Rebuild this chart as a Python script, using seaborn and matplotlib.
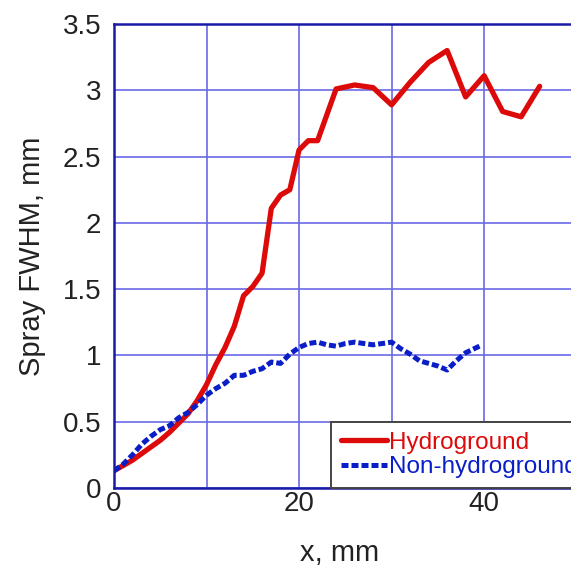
import matplotlib

matplotlib.use("Agg")
import matplotlib.pyplot as plt
import numpy as np
import pandas as pd
import seaborn as sns
from matplotlib.ticker import MultipleLocator


HYDRO_X = [0, 1, 2, 3, 4, 5, 6, 7, 8, 9, 10, 11, 12, 13, 14, 15, 16, 17, 18,
           19, 20, 21, 22, 24, 26, 28, 30, 32, 34, 36, 38, 40, 42, 44, 46]
HYDRO_Y = [0.13, 0.17, 0.21, 0.26, 0.31, 0.36, 0.42, 0.49, 0.56, 0.66, 0.78,
           0.93, 1.06, 1.22, 1.45, 1.52, 1.62, 2.11, 2.21, 2.25, 2.55, 2.62,
           2.62, 3.01, 3.04, 3.02, 2.89, 3.06, 3.21, 3.30, 2.95, 3.11, 2.84,
           2.80, 3.03]

NONHYDRO_X = [0, 1, 2, 3, 4, 5, 6, 7, 8, 9, 10, 11, 12, 13, 14, 15, 16, 17,
              18, 19, 20, 21, 22, 23, 24, 25, 26, 27, 28, 29, 30, 31, 32, 33,
              34, 35, 36, 37, 38, 39.5]
NONHYDRO_Y = [0.13, 0.18, 0.25, 0.33, 0.39, 0.44, 0.47, 0.53, 0.57, 0.63,
              0.70, 0.75, 0.79, 0.85, 0.85, 0.88, 0.90, 0.95, 0.94, 1.01,
              1.06, 1.09, 1.10, 1.08, 1.07, 1.09, 1.10, 1.09, 1.08, 1.09,
              1.10, 1.05, 1.01, 0.96, 0.94, 0.92, 0.89, 0.96, 1.02, 1.07]

Y_TICKS = [0, 0.5, 1, 1.5, 2, 2.5, 3, 3.5]
X_TICKS = [0, 20, 40]

RED = "#dd0a0a"
BLUE = "#0a1ec8"
SPINE = "#1a1aa8"
GRID = "#6a6ae6"

sns.set_style("whitegrid")
plt.rcParams["font.family"] = ["Liberation Sans", "DejaVu Sans"]

hydro = pd.DataFrame({"x": HYDRO_X, "fwhm": HYDRO_Y})
nonhydro = pd.DataFrame({"x": NONHYDRO_X, "fwhm": NONHYDRO_Y})

fig = plt.figure(figsize=(5.71, 5.70), dpi=100)
# axes run a little past the right edge of the picture, as in the original crop
ax = fig.add_axes([114 / 571, 82 / 570, 471 / 571, 464 / 570])

sns.lineplot(
    data=hydro, x="x", y="fwhm", ax=ax,
    color=RED, linewidth=3.8, label="Hydroground",
)
sns.lineplot(
    data=nonhydro, x="x", y="fwhm", ax=ax,
    color=BLUE, linewidth=3.6, linestyle=(0, (1.4, 0.6)),
    label="Non-hydroground",
)

ax.set_xlim(0, 50.9)
ax.set_ylim(0, 3.5)
ax.set_xticks(X_TICKS)
ax.xaxis.set_minor_locator(MultipleLocator(10))
ax.set_yticks(Y_TICKS)
ax.set_yticklabels([f"{v:g}" for v in Y_TICKS])

ax.grid(True, which="both", color=GRID, linewidth=1.2)
ax.set_axisbelow(True)
for spine in ax.spines.values():
    spine.set_color(SPINE)
    spine.set_linewidth(1.8)

ax.tick_params(axis="both", which="both", length=0, labelsize=20,
               labelcolor="#222222")
ax.tick_params(axis="y", pad=9)
ax.tick_params(axis="x", pad=2)

ax.set_xlabel("x, mm", fontsize=21, color="#222222", labelpad=16)
ax.xaxis.label.set_x(0.478)
ax.set_ylabel("Spray FWHM, mm", fontsize=21, color="#222222", labelpad=12)

legend = ax.legend(
    loc="lower left", bbox_to_anchor=(217 / 471, 0.0), borderaxespad=0,
    fontsize=17.5, frameon=True, fancybox=False, framealpha=1,
    edgecolor="#444444", handlelength=1.9, handletextpad=0.1,
    labelspacing=0.1, borderpad=0.4,
)
legend.get_frame().set_linewidth(1.4)
for text, color in zip(legend.get_texts(), [RED, BLUE]):
    text.set_color(color)

fig.savefig("out.png", dpi=100)
plt.close(fig)
